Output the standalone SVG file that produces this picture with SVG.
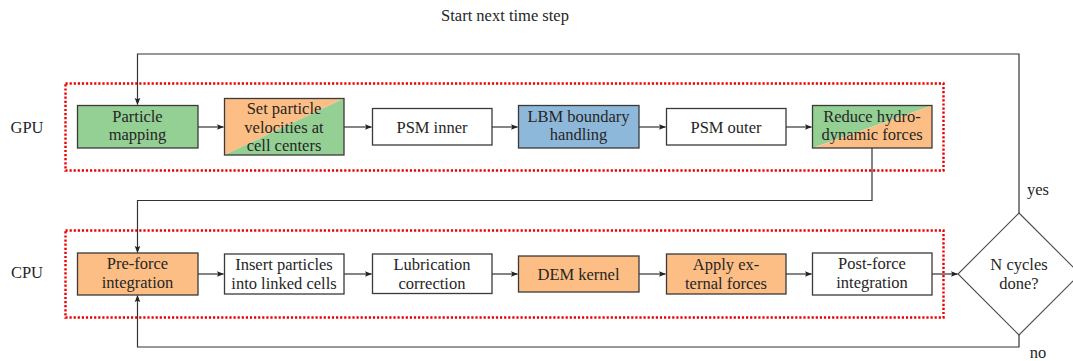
<svg xmlns="http://www.w3.org/2000/svg" width="1073" height="361" viewBox="0 0 1073 361" font-family="'Liberation Serif', 'Times New Roman', Tinos, 'DejaVu Serif', serif">
  <style>
    text { font-family: 'Liberation Serif', 'Times New Roman', Tinos, 'DejaVu Serif', serif; font-size: 16.5px; fill: #262626; text-anchor: middle; }
    .box { stroke: #3a3a3a; stroke-width: 1.3; }
    .plain { fill: #ffffff; }
    .green { fill: #94cf94; }
    .orange { fill: #fdbe85; }
    .blue { fill: #8eb8d9; }
    .decision { fill: #ffffff; stroke: #4a4a4a; stroke-width: 1.1; }
    .region { fill: none; stroke: #ee0000; stroke-width: 2.4; stroke-dasharray: 2.2 1.9; }
    .conn { fill: none; stroke: #333; stroke-width: 1.2; }
  </style>
  <defs>
    <marker id="arrow" viewBox="0 0 8 8" refX="7.5" refY="4" markerWidth="7" markerHeight="7" markerUnits="userSpaceOnUse" orient="auto">
      <path d="M0,0.8 L8,4 L0,7.2 L1.6,4 Z" fill="#222"/>
    </marker>
  </defs>

  <!-- header and side labels -->
  <text x="505" y="21" font-size="15">Start next time step</text>
  <text x="27" y="133">GPU</text>
  <text x="27" y="278">CPU</text>
  <text x="1038" y="195" font-size="15">yes</text>
  <text x="1038" y="357.5" font-size="15">no</text>

  <!-- device regions -->
  <rect id="gpu-region" class="region" x="65.5" y="83.5" width="878" height="87"/>
  <rect id="cpu-region" class="region" x="65.5" y="230.5" width="878" height="87"/>

  <!-- connectors -->
  <g id="connectors">
    <path class="conn" d="M1019,213 V54 H137.5 V104.5" marker-end="url(#arrow)"/>
    <path class="conn" d="M198,127 H223.5" marker-end="url(#arrow)"/>
    <path class="conn" d="M344,127 H371.5" marker-end="url(#arrow)"/>
    <path class="conn" d="M492,127 H517.5" marker-end="url(#arrow)"/>
    <path class="conn" d="M639,127 H665.5" marker-end="url(#arrow)"/>
    <path class="conn" d="M786,127 H811.5" marker-end="url(#arrow)"/>
    <path class="conn" d="M872,148 V200.5 H137.5 V252.5" marker-end="url(#arrow)"/>
    <path class="conn" d="M198,274 H223.5" marker-end="url(#arrow)"/>
    <path class="conn" d="M344,274 H371.5" marker-end="url(#arrow)"/>
    <path class="conn" d="M492,274 H517.5" marker-end="url(#arrow)"/>
    <path class="conn" d="M639,274 H665.5" marker-end="url(#arrow)"/>
    <path class="conn" d="M786,274 H811.5" marker-end="url(#arrow)"/>
    <path class="conn" d="M932,274 H957.5" marker-end="url(#arrow)"/>
    <path class="conn" d="M1019,335 V347 H137.5 V295.5" marker-end="url(#arrow)"/>
  </g>

  <!-- GPU stage -->
  <g id="particle-mapping">
    <rect class="box green" x="77.5" y="105.5" width="120.5" height="42.5"/>
    <text x="137.5" y="122">Particle</text>
    <text x="137.5" y="140">mapping</text>
  </g>
  <g id="set-velocities">
    <polygon class="orange" points="224.5,98.5 344,98.5 224.5,155"/>
    <polygon class="green" points="344,98.5 344,155 224.5,155"/>
    <rect class="box" fill="none" x="224.5" y="98.5" width="119.5" height="56.5"/>
    <text x="284" y="114">Set particle</text>
    <text x="284" y="132.5">velocities at</text>
    <text x="284" y="151">cell centers</text>
  </g>
  <g id="psm-inner">
    <rect class="box plain" x="372.5" y="108.5" width="119.5" height="36.5"/>
    <text x="432" y="132.5">PSM inner</text>
  </g>
  <g id="lbm-boundary">
    <rect class="box blue" x="518.5" y="105.5" width="120.5" height="42.5"/>
    <text x="578.5" y="122">LBM boundary</text>
    <text x="578.5" y="140">handling</text>
  </g>
  <g id="psm-outer">
    <rect class="box plain" x="666.5" y="108.5" width="119.5" height="36.5"/>
    <text x="726" y="132.5">PSM outer</text>
  </g>
  <g id="reduce-forces">
    <polygon class="green" points="812.5,105.5 932,105.5 812.5,148"/>
    <polygon class="orange" points="932,105.5 932,148 812.5,148"/>
    <rect class="box" fill="none" x="812.5" y="105.5" width="119.5" height="42.5"/>
    <text x="872" y="122">Reduce hydro-</text>
    <text x="872" y="140">dynamic forces</text>
  </g>

  <!-- CPU stage -->
  <g id="pre-force">
    <rect class="box orange" x="77.5" y="253" width="120.5" height="42"/>
    <text x="137.5" y="269">Pre-force</text>
    <text x="137.5" y="287.5">integration</text>
  </g>
  <g id="insert-particles">
    <rect class="box plain" x="224.5" y="254" width="119.5" height="40"/>
    <text x="284" y="270">Insert particles</text>
    <text x="284" y="288.5">into linked cells</text>
  </g>
  <g id="lubrication">
    <rect class="box plain" x="372.5" y="254" width="119.5" height="39.5"/>
    <text x="432" y="270">Lubrication</text>
    <text x="432" y="288.5">correction</text>
  </g>
  <g id="dem-kernel">
    <rect class="box orange" x="518.5" y="256" width="120.5" height="36"/>
    <text x="578.5" y="279.5">DEM kernel</text>
  </g>
  <g id="external-forces">
    <rect class="box orange" x="666.5" y="254" width="119.5" height="40"/>
    <text x="726" y="270">Apply ex-</text>
    <text x="726" y="288.5">ternal forces</text>
  </g>
  <g id="post-force">
    <rect class="box plain" x="812.5" y="253" width="119.5" height="42"/>
    <text x="872" y="269">Post-force</text>
    <text x="872" y="287.5">integration</text>
  </g>

  <!-- loop decision -->
  <g id="n-cycles">
    <polygon class="decision" points="1019,213 1080,274 1019,335 958,274"/>
    <text x="1019" y="270">N cycles</text>
    <text x="1019" y="288.5">done?</text>
  </g>
</svg>
